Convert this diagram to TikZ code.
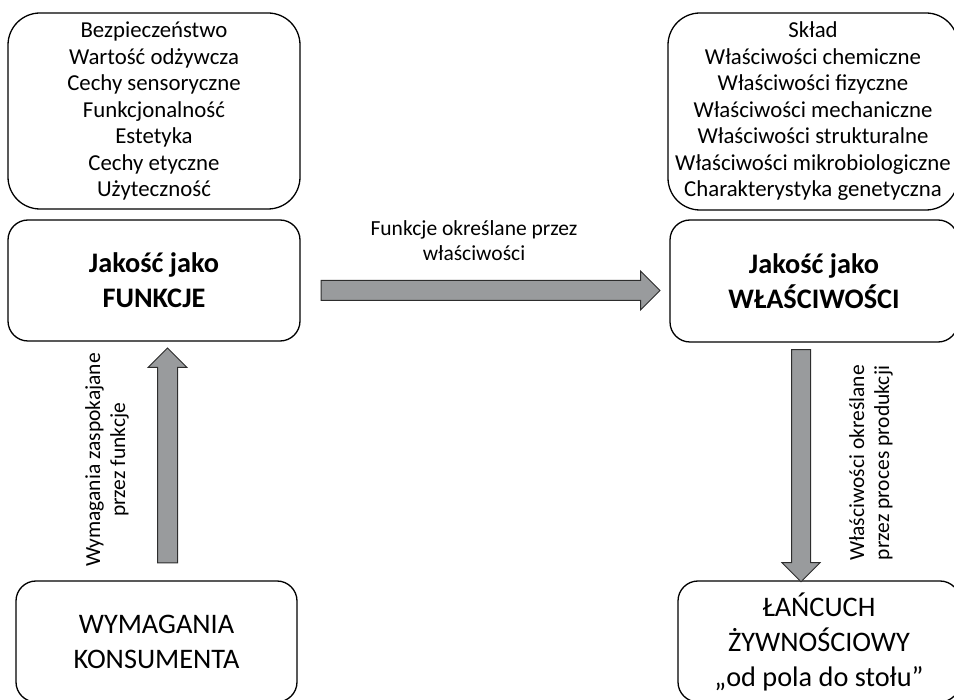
\documentclass[tikz,border=0pt]{standalone}
\usepackage{fontspec}
\setmainfont{Carlito}
\usetikzlibrary{shapes.arrows, positioning, calc}
\definecolor{arrowgray}{RGB}{153,155,157}
\definecolor{arrowline}{RGB}{45,45,45}
\tikzset{
	box/.style={draw, line width=1.3pt, rounded corners=#1, align=center, inner sep=0pt},
	box/.default=20pt,
	bigarrow/.style={single arrow, draw=arrowline, fill=arrowgray, line width=1pt, inner xsep=0pt, inner ysep=9.5pt, single arrow head extend=9.5pt},
	listtext/.style={font=\fontsize{22.8}{26.5}\selectfont},
	bigtext/.style={font=\fontsize{28.3}{35}\selectfont},
	labeltext/.style={font=\fontsize{21.5}{25}\selectfont, align=center}
}

\begin{document}
\begin{tikzpicture}[x=1pt, y=-1pt]
				  \clip (0,0) rectangle (954,700);
				  \node[box=32pt, listtext, minimum width=292pt, minimum height=196pt] (cechy) at (154,111) {Bezpieczeństwo\\Wartość odżywcza\\Cechy sensoryczne\\Funkcjonalność\\Estetyka\\Cechy etyczne\\Użyteczność};
				  \node[box, bigtext, minimum width=292pt, minimum height=121pt] (funkcje) at (154,280.5) {\bfseries Jakość jako\\\bfseries FUNKCJE};
				  \node[box, bigtext, minimum width=281pt, minimum height=121pt] (konsument) at (156.5,641.5) {WYMAGANIA\\KONSUMENTA};
				  \node[box=32pt, listtext, minimum width=290pt, minimum height=197pt] (sklad) at (813,111.5) {Skład\\Właściwości chemiczne\\Właściwości fizyczne\\Właściwości mechaniczne\\Właściwości strukturalne\\Właściwości mikrobiologiczne\\Charakterystyka genetyczna};
				  \node[box, bigtext, minimum width=288pt, minimum height=122pt] (wlasc) at (814,281) {\bfseries Jakość jako\\\bfseries WŁAŚCIWOŚCI};
				  \node[box, bigtext, minimum width=282pt, minimum height=121pt] (lancuch) at (819,641.5) {ŁAŃCUCH\\ŻYWNOŚCIOWY\\„od pola do stołu”};
				  \node[bigarrow, minimum height=339pt] (fw) at (485.5,290.5) {};
				  \node[bigarrow, rotate=90, minimum height=215pt] (kf) at (167.5,460.5) {};
				  \node[bigarrow, rotate=-90, inner ysep=9pt, minimum height=232pt] (wl) at (801,461) {};
				  \node[labeltext] (fwtext) at (474,241) {Funkcje określane przez\\właściwości};
				  \node[labeltext, rotate=90] (kftext) at (107,460) {Wymagania zaspokajane\\przez funkcje};
				  \node[labeltext, rotate=90] (wltext) at (871,463) {Właściwości określane\\przez proces produkcji};
				\end{tikzpicture}
\end{document}
